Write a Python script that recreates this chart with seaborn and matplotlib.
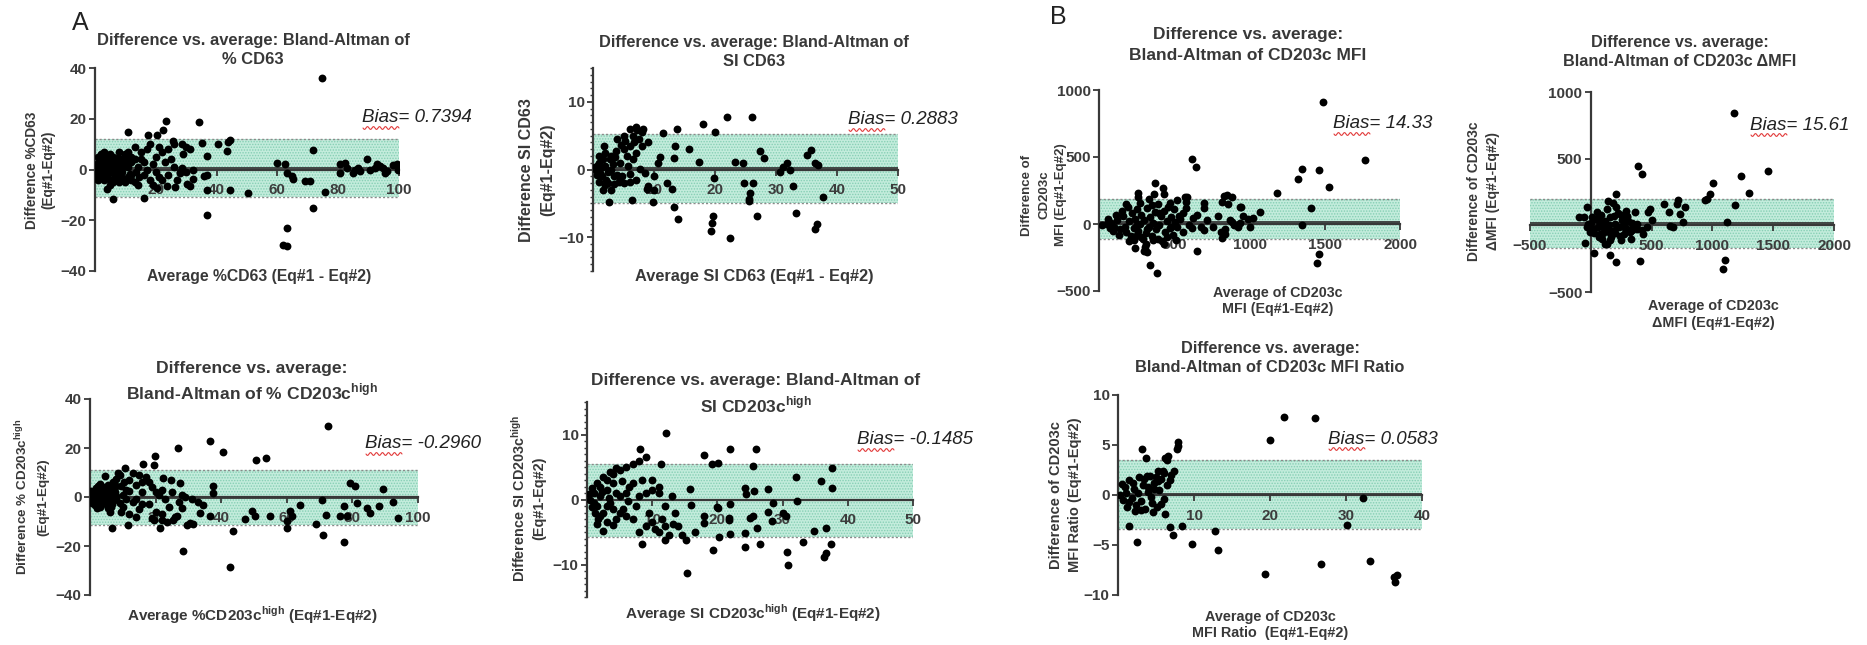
import numpy as np
import pandas as pd
import seaborn as sns
import matplotlib.pyplot as plt
from matplotlib.ticker import MultipleLocator
from matplotlib.lines import Line2D

sns.set_style('white')
plt.rcParams['font.family'] = ['Liberation Sans', 'DejaVu Sans']
plt.rcParams['hatch.linewidth'] = 0.7
plt.rcParams['hatch.color'] = '#86cfb4'
plt.rcParams['axes.axisbelow'] = False

# #############################################################################
# Data (average, difference)
# #############################################################################
P1_PTS = [
    (74.6, 36.2), (23.2, 19.3), (34.2, 18.6), (22.3, 15.7), (11.0, 14.6), (71.8, 7.6), (89.6, 4.3),
    (40.6, 10.2), (43.9, 10.8), (44.4, 11.8), (43.5, 7.2), (37.0, 5.5), (35.1, 10.5), (31.3, 8.1),
    (25.8, 11.1), (28.5, 10.2), (20.3, 13.7), (17.5, 13.7), (59.8, 2.6), (62.5, 2.0), (63.0, -1.3),
    (64.7, -2.6), (65.2, -3.9), (69.0, -4.6), (70.7, -4.6), (75.7, -8.9), (50.4, -9.2), (44.4, -8.1),
    (36.7, -8.1), (35.9, -2.4), (36.7, -2.0), (32.1, 0.0), (32.1, -3.9), (30.2, -5.9), (31.3, -6.5),
    (28.5, 0.7), (27.9, -1.3), (23.6, -6.5), (26.3, -6.8), (20.3, -7.2), (16.2, -11.1), (6.0, -11.8),
    (3.8, -7.6), (36.7, -18.0), (71.8, -15.0), (63.3, -22.9), (62.0, -29.8), (63.0, -30.3),
    (80.6, 2.0), (82.2, 2.6), (82.8, 0.7), (80.6, -1.3), (85.0, -1.3), (85.5, 0.0), (86.6, 0.7),
    (87.2, -0.7), (92.7, 2.0), (93.8, 1.3), (94.8, 0.7), (95.9, -0.7), (98.1, 1.6), (99.2, 2.0),
    (99.8, 0.0), (95.4, -1.3), (90.5, 0.0), (92.1, 0.7),
    (0.5, 0.5), (1.0, 1.0), (1.5, -0.5), (2.0, -1.0), (2.5, 4.0), (3.0, 2.0), (3.5, -3.0), (4.0, -2.0),
    (5.0, 3.0), (6.0, 5.0), (7.0, -4.0), (8.0, 2.0), (9.0, -1.0), (10.0, 6.0), (11.0, -3.0), (12.0, 3.0),
    (13.0, -5.0), (14.0, 1.0), (15.0, 4.0), (16.0, -2.0), (17.0, 8.0), (18.0, -4.0), (19.0, 2.0),
    (20.0, 5.0), (21.0, -3.0), (22.0, 7.0), (24.0, -2.0), (25.0, 4.0), (26.0, 1.0), (27.0, -4.0),
    (29.0, 6.0), (30.0, -1.0), (2.0, 6.0), (4.0, 5.0), (6.0, -5.0), (8.0, 7.0), (9.0, 4.0), (10.0, -5.0),
    (12.0, -2.0), (13.0, 9.0), (14.0, -6.0), (15.0, 7.0), (16.0, 3.0), (18.0, 10.0), (19.0, -6.0),
    (21.0, 9.0), (23.0, 3.0), (24.0, 8.0), (26.0, 10.0), (28.0, -1.0), (30.0, 9.0), (0.3, 0.0),
    (0.8, -2.0), (1.2, 3.0), (1.8, -3.0), (2.2, 2.0), (2.8, -4.0), (3.2, 5.0), (3.8, 0.0), (4.4, 3.0),
    (5.0, -1.0), (5.5, -4.0), (6.5, 2.0), (7.5, 0.0), (8.5, -3.0), (9.5, 3.0), (11.0, 1.0), (12.0, 5.0),
    (13.5, -1.0), (14.5, -3.0), (17.0, 0.0), (20.0, -1.0), (22.0, -4.0), (1.0, -4.0), (2.0, 3.0),
    (3.0, -1.0), (4.0, 1.0), (5.0, 6.0), (6.0, 0.0), (7.0, 3.0), (7.0, -2.0), (8.0, -5.0), (9.0, 1.0),
    (10.0, 2.0), (11.0, 7.0), (12.0, -4.0), (13.0, 4.0), (3.0, 7.0), (1.0, 5.0), (5.0, -6.0),
    (0.6, 2.2), (1.4, -1.8), (2.4, 0.6), (3.4, 3.6), (4.6, -3.6), (5.6, 1.4), (6.6, -2.6), (7.6, 4.6),
    (8.6, 0.8), (9.6, -3.8), (10.6, 3.8), (11.6, -1.6), (0.4, -3.2), (1.6, 4.2), (2.6, -2.4), (4.8, 4.2),
]
P1_BAND = (0.7394, -10.7, 12.1)

P2_PTS = [
    (22.0, 7.8), (26.0, 7.7), (18.0, 6.7), (20.0, 5.5), (13.7, 6.0), (11.5, 5.4), (15.8, 3.1),
    (13.5, 3.4), (13.3, 1.7), (17.3, 1.1), (23.3, 1.1), (24.6, 1.0), (27.4, 2.8), (28.0, 1.7),
    (19.8, -1.2), (24.7, -2.0), (26.3, -2.0), (25.8, -3.4), (25.5, -4.4), (26.9, -6.8), (19.7, -6.9),
    (19.5, -7.9), (19.3, -9.1), (22.4, -10.1), (13.9, -7.3), (13.2, -5.5), (12.9, -2.9), (12.1, -2.0),
    (9.8, -4.8), (10.0, -3.0), (8.9, -2.9), (6.4, -4.5), (6.0, -1.9), (4.5, -1.5), (2.6, -4.8),
    (1.7, -3.0), (10.6, 0.9), (7.7, 0.1), (35.0, 2.1), (35.8, 2.9), (36.4, 1.0), (36.9, 0.6),
    (31.8, 1.0), (31.2, 0.3), (30.7, -0.3), (32.3, 0.0), (32.8, -2.4), (25.6, -4.7), (37.7, -4.0),
    (33.2, -6.5), (36.7, -8.1), (36.4, -8.8),
    (5.0, 5.0), (6.0, 6.0), (7.0, 6.3), (8.0, 5.5), (9.0, 4.0), (7.5, 4.5), (6.5, 5.0), (6.0, 3.5),
    (5.0, 3.0), (4.0, 4.5), (3.0, 2.0), (2.0, 2.5), (1.0, 1.0), (0.5, 0.0), (1.5, -1.0), (2.5, -2.0),
    (3.5, -1.0), (4.5, 1.0), (3.0, -3.0), (0.8, 0.6), (1.2, -0.5), (2.0, 0.5), (2.8, 1.5), (3.2, 0.8),
    (4.0, -0.8), (5.0, -2.0), (5.5, 2.0), (6.5, 1.5), (7.0, 2.5), (8.0, 3.5), (8.5, -0.5), (1.8, 3.5),
    (2.2, -1.5), (3.8, 2.8), (4.2, -1.8), (6.0, -0.7), (7.0, -1.5), (9.0, -2.5), (10.0, -1.0),
    (11.0, 1.8), (0.3, 0.3), (0.6, -0.8), (1.0, 2.0), (1.4, 0.4), (1.6, 1.6), (2.4, -0.3), (3.0, 0.0),
    (3.6, 1.8), (4.6, 3.6), (5.2, 4.2), (7.2, 5.8), (8.2, 6.0), (6.8, 4.0), (2.0, -2.3), (1.0, -1.8),
    (4.8, -1.0), (5.8, 0.5), (3.4, -2.2),
]
P2_BAND = (0.2883, -5.0, 5.2)

P3_PTS = [
    (72.7, 29.1), (36.6, 22.9), (26.8, 20.0), (40.5, 18.2), (50.7, 15.0), (53.6, 15.9), (19.8, 16.6),
    (19.5, 13.2), (16.3, 13.6), (89.3, 3.4), (79.3, 5.7), (80.9, 4.4), (81.4, -2.4), (77.3, -3.8),
    (84.3, -4.5), (85.5, -6.5), (88.0, -3.8), (92.4, -2.2), (93.9, -8.6), (78.3, -7.9), (76.3, -7.9),
    (72.0, -7.3), (70.7, -1.1), (69.0, -10.9), (71.0, -15.4), (77.3, -18.4), (64.1, -3.1), (61.0, -5.9),
    (60.0, -9.9), (60.0, -12.7), (61.5, -7.9), (54.9, -7.9), (50.3, -7.6), (49.3, -5.9), (47.3, -9.0),
    (43.7, -14.0), (42.7, -28.6), (28.3, -22.2), (37.6, 4.6), (37.6, 1.6), (36.6, -7.9), (34.6, -3.1),
    (33.6, -6.5), (31.5, -10.9), (30.5, -10.6), (28.0, -4.5), (26.5, -7.9), (25.4, -9.3), (21.4, -12.7),
    (19.5, -9.3), (18.8, -8.6), (11.7, -11.3), (6.6, -12.7), (24.6, 7.1), (27.5, 5.7), (22.4, 7.8),
    (10.7, 11.8), (4.6, 8.7), (22.0, -9.5), (23.5, -10.0), (29.5, -11.5),
    (1.0, 0.0), (2.0, 2.0), (3.0, -2.0), (4.0, 4.0), (5.0, -3.0), (6.0, 1.0), (7.0, 6.0), (8.0, -1.0),
    (9.0, 9.0), (10.0, -4.0), (11.0, 3.0), (12.0, 7.0), (13.0, -2.0), (14.0, 5.0), (15.0, -5.0),
    (16.0, 2.0), (17.0, 8.0), (18.0, -3.0), (19.0, 4.0), (20.0, -6.0), (21.0, 1.0), (22.0, 3.0),
    (23.0, -1.0), (25.0, 2.0), (27.0, -2.0), (29.0, 0.0), (31.0, -1.0), (33.0, -2.0), (0.5, -1.0),
    (1.5, 1.5), (2.5, -3.0), (3.5, 3.0), (4.5, 0.0), (5.5, 5.0), (6.5, -4.0), (7.5, 2.0), (8.5, 10.0),
    (9.5, -6.0), (10.5, 6.0), (12.0, -7.0), (13.0, 10.0), (14.0, -8.0), (15.0, 9.0), (16.0, -3.0),
    (18.0, 6.0), (20.0, 2.0), (22.0, -7.0), (24.0, -4.0), (26.0, -8.0), (28.0, 1.0), (0.8, 1.2),
    (1.2, -2.0), (1.8, 3.5), (2.2, -0.5), (2.8, 1.0), (3.2, -4.0), (3.8, 2.0), (4.2, -2.0), (5.0, 1.5),
    (6.0, -1.5), (7.0, 3.5), (8.0, 4.5), (9.0, -2.5), (10.0, 1.0), (11.0, -1.0), (12.0, 2.5),
    (3.0, 5.5), (2.0, -4.5), (6.0, -6.0), (8.0, 7.5), (14.0, -1.0), (16.0, 6.0),
    (0.4, 2.4), (1.4, -3.4), (2.4, 4.4), (3.4, -0.6), (4.4, 2.6), (5.4, -4.6), (6.4, 3.4), (7.4, -1.4),
    (0.6, -2.6), (1.6, 0.4), (2.6, 1.8), (4.8, -1.2), (5.8, 2.2), (6.8, -2.8), (7.8, 0.6), (9.4, 4.6),
]
P3_BAND = (-0.2960, -11.4, 11.0)

P4_PTS = [
    (12.1, 10.2), (8.2, 7.7), (11.4, 5.4), (17.9, 6.8), (21.9, 7.8), (25.9, 7.7), (19.2, 5.4),
    (20.1, 5.6), (25.4, 5.2), (15.8, 1.6), (24.2, 1.8), (25.6, 1.3), (27.8, 1.6), (32.1, 3.5),
    (35.9, 2.8), (37.5, 1.8), (37.5, 4.8), (32.2, -0.3), (20.1, -1.3), (21.9, -0.7), (17.9, -2.6),
    (17.9, -3.6), (21.8, -2.8), (21.8, -3.2), (19.3, -7.8), (20.2, -5.8), (21.9, -5.3), (15.2, -6.2),
    (15.4, -11.3), (24.2, -7.3), (25.0, -2.8), (25.5, -2.6), (26.0, -4.4), (26.6, -6.8), (27.8, -1.9),
    (28.4, -3.3), (28.5, -0.5), (30.1, -2.0), (30.5, -2.5), (30.7, -8.1), (30.8, -10.1), (33.1, -6.6),
    (34.8, -4.8), (36.6, -4.4), (36.6, -8.3), (36.3, -8.8), (37.4, -6.9), (24.2, -5.1), (8.5, -6.9),
    (11.9, -6.2), (13.2, -3.7), (2.5, -4.8), (4.0, -3.9), (1.7, -3.0), (24.4, 0.8), (19.9, -1.1),
    (0.5, 0.0), (1.0, 1.0), (1.5, -1.0), (2.0, 2.0), (2.5, -2.0), (3.0, 3.0), (3.5, -0.5), (4.0, 4.0),
    (4.5, 1.0), (5.0, 4.5), (5.5, -1.5), (6.0, 5.0), (6.5, 2.0), (7.0, 5.5), (7.5, -1.0), (8.0, 6.0),
    (8.5, 3.0), (9.0, 6.5), (9.5, -2.0), (10.0, -3.5), (10.5, -4.5), (11.0, -5.0), (11.5, -3.0),
    (12.0, -4.0), (9.0, -4.0), (8.0, -5.0), (7.0, -3.0), (6.0, -2.5), (5.0, -2.0), (4.0, -1.5),
    (3.0, -1.0), (2.0, 0.5), (1.0, -0.5), (1.5, 2.5), (2.5, 3.5), (3.5, 4.2), (4.5, 4.8), (0.8, 1.8),
    (1.2, -2.0), (2.0, -2.5), (3.0, 1.5), (4.0, 2.5), (5.0, 0.5), (6.0, 1.0), (7.0, 2.5), (8.0, 0.5),
    (9.0, 1.0), (10.0, 1.5), (11.0, 2.0), (12.0, -1.0), (13.0, 0.5), (13.5, -2.0), (14.0, -4.0),
    (14.5, -5.5), (16.0, -0.8), (16.5, -5.0), (12.5, -5.5), (10.0, 3.0), (11.0, 1.0), (3.0, -3.5),
    (1.5, -3.8), (4.5, -3.0), (0.3, 0.8), (0.7, -1.2), (2.3, 1.2), (3.3, 0.3), (5.3, 2.8), (6.3, -0.3),
]
P4_BAND = (-0.1485, -5.8, 5.45)

P5_PTS = [
    (1486, 913), (1767, 478), (1462, 403), (1347, 410), (1324, 333), (1530, 279), (1180, 234),
    (1409, 117), (1351, -7), (1446, -294), (1464, -226), (1070, 92), (1025, 42), (992, 37), (937, 129),
    (848, 216), (882, 204), (815, 167), (859, 149), (937, 5), (925, -20), (881, 17), (836, -40),
    (815, -107), (837, -77), (649, -200), (616, 483), (642, 423), (695, 154), (695, 117), (700, -45),
    (571, 204), (578, 167), (627, 42), (516, 179), (560, 80), (505, 17), (427, 266), (434, 221),
    (372, 303), (261, 204), (250, -82), (306, -169), (317, -206), (339, -306), (388, -363), (368, 224),
    (583, 204), (833, 209), (944, 129),
    (20, -10), (50, 0), (80, 10), (100, -20), (120, 30), (140, -40), (160, 60), (180, -60), (200, 20),
    (210, -90), (220, 80), (230, -30), (240, 40), (250, 110), (260, -50), (270, 0), (280, 70),
    (290, -110), (300, 30), (310, -70), (320, 120), (330, -20), (340, 50), (350, -90), (360, 10),
    (370, 90), (380, -40), (390, 150), (400, -10), (410, 60), (420, -130), (430, 100), (440, -60),
    (450, 20), (460, 130), (470, -30), (480, 50), (490, -80), (500, 110), (520, -20), (540, 40),
    (560, -60), (580, 120), (600, -10), (150, 100), (190, 130), (230, -120), (270, 160), (310, -150),
    (350, 140), (390, -110), (430, -150), (470, 160), (510, -120), (330, 190), (280, -100), (240, -180),
    (200, -130), (260, 230), (300, -200), (180, 150), (130, -80), (90, -50), (60, 40), (75, -30),
    (110, 70), (170, -20), (250, -10), (320, -40), (360, -120), (400, 80), (450, -100), (480, -20),
    (530, 60), (620, -30), (650, 70), (680, -20), (720, 30), (760, -20), (790, 60), (810, -60),
    (870, 30), (900, -10), (960, 60), (1000, -20),
]
P5_BAND = (14.33, -110, 190)

P6_PTS = [
    (1181, 845), (1461, 408), (1236, 368), (1305, 245), (1187, 150), (1118, 25), (1105, -258),
    (1086, -325), (1009, 318), (981, 238), (954, 195), (940, 193), (776, 137), (721, 188), (707, 162),
    (735, 88), (680, -13), (652, -8), (762, 25), (392, 445), (419, 388), (406, -268), (206, -275),
    (159, -225), (27, -205), (-47, -130), (206, 233), (145, 180), (-33, 138), (-101, 63),
    (598, 163), (639, 100), (488, 125), (474, 100), (502, 38), (461, -13), (419, -38), (433, -63),
    (378, 13), (337, -38), (296, 63), (269, -63), (214, -13), (159, -113), (132, -138), (77, -63),
    (22, -38), (-33, -13), (-60, 63),
    (0, 20), (20, -30), (40, 50), (60, -10), (80, 80), (100, -60), (120, 30), (140, -20), (160, 60),
    (180, -40), (200, 10), (220, 90), (240, -80), (260, 40), (280, -20), (300, 70), (320, -50),
    (340, 20), (360, 100), (380, -30), (50, 100), (90, -100), (130, 120), (170, -90), (210, 140),
    (250, -110), (290, 110), (330, -100), (30, -60), (70, 30), (110, -20), (150, 0), (190, 70),
    (230, -10), (270, 0), (310, 30), (350, -10), (10, 60), (-20, 10), (-10, -50), (100, 20),
    (200, -60), (300, -30), (150, -50), (250, 80), (180, 170), (120, -140), (70, -90),
]
P6_BAND = (15.61, -170, 200)

P7_PTS = [
    (21.9, 7.85), (25.9, 7.75), (20.0, 5.5), (7.9, 5.3), (7.9, 4.9), (7.8, 4.6), (6.6, 3.9), (6.2, 3.7),
    (5.9, 2.4), (6.1, 2.2), (6.4, 3.5), (3.1, 4.6), (3.7, 3.7), (32.2, -0.3), (30.1, -3.0), (33.1, -6.6),
    (26.7, -6.9), (19.3, -7.9), (36.3, -8.2), (36.7, -8.0), (36.4, -8.7), (13.1, -5.5), (12.7, -3.6),
    (9.7, -4.9), (8.4, -3.1), (6.8, -3.2), (7.2, -4.0), (6.2, -1.9), (4.6, -1.7), (2.5, -4.7),
    (1.5, -3.1),
    (0.3, 0.0), (0.6, -0.5), (0.9, 0.8), (1.2, -1.2), (1.5, 1.5), (1.8, -0.3), (2.1, 0.6), (2.4, -1.0),
    (2.7, 1.8), (3.0, -0.6), (3.3, 1.0), (3.6, -1.4), (3.9, 0.3), (4.2, 1.9), (4.5, -0.8), (4.8, 1.2),
    (5.1, -1.2), (5.4, 0.5), (5.7, 1.6), (6.0, -0.4), (1.0, 0.2), (2.0, 1.2), (3.0, -1.5), (4.0, 0.8),
    (5.0, 1.8), (1.4, -0.7), (2.6, 0.2), (3.4, 1.6), (4.4, -0.2), (5.2, 2.4), (0.5, 1.1), (2.2, -1.6),
    (3.8, 1.9), (4.7, 0.6), (5.6, -0.9), (6.5, 1.0), (7.0, 2.0), (7.4, 2.4), (6.8, 1.5), (5.3, 1.4),
]
P7_BAND = (0.0583, -3.4, 3.55)

SUP = r'$^{\mathregular{high}}$'

# #############################################################################
# Layout (pixel positions in the 1867x645 canvas)
# #############################################################################
W, H = 1867, 645
BAND_COL = '#c3ecdc'
INK = '#383838'

panels = [
    dict(pts=P1_PTS, band=P1_BAND, box=(95, 68, 399, 271), xlim=(0, 100), ylim=(-40, 40),
         xt=[20, 40, 60, 80, 100], yt=[-40, -20, 0, 20, 40], minor=None, yzero=False,
         title=(11.9, 253, [(40, 'Difference vs. average: Bland-Altman of'), (60, '% CD63')]),
         ylab=(9.8, 170, [(32, 'Difference %CD63'), (48, '(Eq#1-Eq#2)')]),
         xlab=(11.3, 259, [(277, 'Average %CD63 (Eq#1 - Eq#2)')]),
         bias=(362, 118)),
    dict(pts=P2_PTS, band=P2_BAND, box=(593, 68, 898, 271), xlim=(0, 50), ylim=(-15, 15),
         xt=[10, 20, 30, 40, 50], yt=[-10, 0, 10], minor=1, yzero=False,
         title=(11.8, 754, [(42, 'Difference vs. average: Bland-Altman of'), (61, 'SI CD63')]),
         ylab=(11.5, 170, [(526, 'Difference SI CD63'), (548, '(Eq#1-Eq#2)')]),
         xlab=(11.8, 754, [(277, 'Average SI CD63 (Eq#1 - Eq#2)')]),
         bias=(848, 120)),
    dict(pts=P3_PTS, band=P3_BAND, box=(90, 399, 418, 595), xlim=(0, 100), ylim=(-40, 40),
         xt=[20, 40, 60, 80, 100], yt=[-40, -20, 0, 20, 40], minor=None, yzero=False,
         title=(12.6, 252, [(368, 'Difference vs. average:'), (392, 'Bland-Altman of % CD203c' + SUP)]),
         ylab=(9.7, 497, [(22, 'Difference % CD203c' + SUP), (43, '(Eq#1-Eq#2)')]),
         xlab=(11, 252, [(615, 'Average %CD203c' + SUP + ' (Eq#1-Eq#2)')]),
         bias=(365, 444)),
    dict(pts=P4_PTS, band=P4_BAND, box=(587, 402, 913, 597), xlim=(0, 50), ylim=(-15, 15),
         xt=[10, 20, 30, 40, 50], yt=[-10, 0, 10], minor=1, yzero=False,
         title=(12.5, 756, [(381, 'Difference vs. average: Bland-Altman of'), (405, 'SI CD203c' + SUP)]),
         ylab=(10.4, 498, [(519, 'Difference SI CD203c' + SUP), (539, '(Eq#1-Eq#2)')]),
         xlab=(11, 753, [(613, 'Average SI CD203c' + SUP + ' (Eq#1-Eq#2)')]),
         bias=(857, 440)),
    dict(pts=P5_PTS, band=P5_BAND, box=(1099, 90, 1400, 291), xlim=(0, 2000), ylim=(-500, 1000),
         xt=[500, 1000, 1500, 2000], yt=[-500, 0, 500, 1000], minor=None, yzero=False,
         title=(12.5, 1248, [(35, 'Difference vs. average:'), (55, 'Bland-Altman of CD203c MFI')]),
         ylab=(9.5, 195, [(1027, 'Difference of'), (1044, 'CD203c'), (1061, 'MFI (Eq#1-Eq#2)')]),
         xlab=(10.3, 1278, [(293, 'Average of CD203c'), (309, 'MFI (Eq#1-Eq#2)')]),
         bias=(1333, 124)),
    dict(pts=P6_PTS, band=P6_BAND, box=(1530, 92, 1834, 292), xlim=(-500, 2000), ylim=(-500, 1000),
         xt=[-500, 500, 1000, 1500, 2000], yt=[-500, 500, 1000], minor=None, yzero=True,
         title=(11.7, 1680, [(42, 'Difference vs. average:'), (61, 'Bland-Altman of CD203c ΔMFI')]),
         ylab=(10, 191, [(1474, 'Difference of CD203c'), (1493, 'ΔMFI (Eq#1-Eq#2)')]),
         xlab=(10.4, 1713, [(306, 'Average of CD203c'), (323, 'ΔMFI (Eq#1-Eq#2)')]),
         bias=(1750, 125)),
    dict(pts=P7_PTS, band=P7_BAND, box=(1118, 395, 1422, 595), xlim=(0, 40), ylim=(-10, 10),
         xt=[10, 20, 30, 40], yt=[-10, -5, 0, 5, 10], minor=None, yzero=False,
         title=(11.8, 1270, [(348, 'Difference vs. average:'), (367, 'Bland-Altman of CD203c MFI Ratio')]),
         ylab=(10.5, 495, [(1056, 'Difference of CD203c'), (1075, 'MFI Ratio (Eq#1-Eq#2)')]),
         xlab=(10.4, 1270, [(617, 'Average of CD203c'), (633, 'MFI Ratio  (Eq#1-Eq#2)')]),
         bias=(1328, 439)),
]

fig = plt.figure(figsize=(W / 100, H / 100), dpi=100)


def ftext(x, y, s, **kw):
    return fig.text(x / W, 1 - y / H, s, **kw)


def wavy(x0, y0, width):
    xs = np.linspace(x0, x0 + width, 60)
    ys = y0 + 1.4 * np.sin((xs - x0) / width * 2 * np.pi * 6)
    fig.add_artist(Line2D(xs / W, 1 - ys / H, color='#e23a3a', lw=0.8,
                          transform=fig.transFigure))


for p in panels:
    l, t, r, b = p['box']
    ax = fig.add_axes([l / W, 1 - b / H, (r - l) / W, (b - t) / H])
    ax.set_axisbelow(False)
    df = pd.DataFrame(p['pts'], columns=['avg', 'diff'])
    bias, lo, hi = p['band']
    x0, x1 = p['xlim']
    # Limits of agreement band -------------------------------------------------
    ax.fill_between([x0, x1], lo, hi, facecolor=BAND_COL, edgecolor='#86cfb4',
                    hatch='......', lw=0, zorder=1)
    for v in (lo, hi):
        ax.plot([x0, x1], [v, v], ls=(0, (1.5, 1.5)), color='#8a8a8a', lw=1, zorder=2)
    ax.plot([x0, x1], [bias, bias], color=INK, lw=1.3, zorder=2)
    sns.scatterplot(data=df, x='avg', y='diff', ax=ax, color='black', s=32,
                    linewidth=0, zorder=3, legend=False)
    ax.set_xlim(*p['xlim'])
    ax.set_ylim(*p['ylim'])
    ax.set_xticks(p['xt'])
    ax.set_yticks(p['yt'])
    if p['minor']:
        ax.yaxis.set_minor_locator(MultipleLocator(p['minor']))
        ax.tick_params(axis='y', which='minor', length=2.5, width=1, colors=INK, left=True)
    ax.set_xlabel('')
    ax.set_ylabel('')
    for s in ('top', 'right'):
        ax.spines[s].set_visible(False)
    ax.spines['bottom'].set_position(('data', 0))
    if p['yzero']:
        ax.spines['left'].set_position(('data', 0))
    for s in ('bottom', 'left'):
        ax.spines[s].set_linewidth(1.6)
        ax.spines[s].set_color(INK)
    ax.tick_params(axis='x', which='major', direction='out', length=4.5, width=1.3,
                   colors=INK, labelsize=11, pad=5.5, bottom=True)
    ax.tick_params(axis='y', which='major', direction='out', length=4.5, width=1.3,
                   colors=INK, labelsize=11, pad=1.5, left=True)
    for lab in ax.get_xticklabels() + ax.get_yticklabels():
        lab.set_fontweight('bold')
        lab.set_color('#3c3c3c')
    ax.set_facecolor('none')
    # Texts -------------------------------------------------------------------
    fs, cx, lines = p['title']
    for (yy, s) in lines:
        ftext(cx, yy, s, ha='center', va='center', fontsize=fs, fontweight='bold', color=INK)
    fs, cy, lines = p['ylab']
    for (xx, s) in lines:
        ftext(xx, cy, s, ha='center', va='center', rotation=90, fontsize=fs,
              fontweight='bold', color=INK)
    fs, cx, lines = p['xlab']
    for (yy, s) in lines:
        ftext(cx, yy, s, ha='center', va='center', fontsize=fs, fontweight='bold', color=INK)
    bx, by = p['bias']
    ftext(bx, by, f"Bias= {bias:.4g}" if abs(bias) >= 1 else f"Bias= {bias:.4f}",
          ha='left', va='center', fontsize=13.5, style='italic', color='#222222')
    wavy(bx + 1, by + 10, 36)

ftext(80, 23, 'A', ha='center', va='center', fontsize=18, color='#222222')
ftext(1058, 17, 'B', ha='center', va='center', fontsize=18, color='#222222')

fig.savefig('out.png', dpi=100)
